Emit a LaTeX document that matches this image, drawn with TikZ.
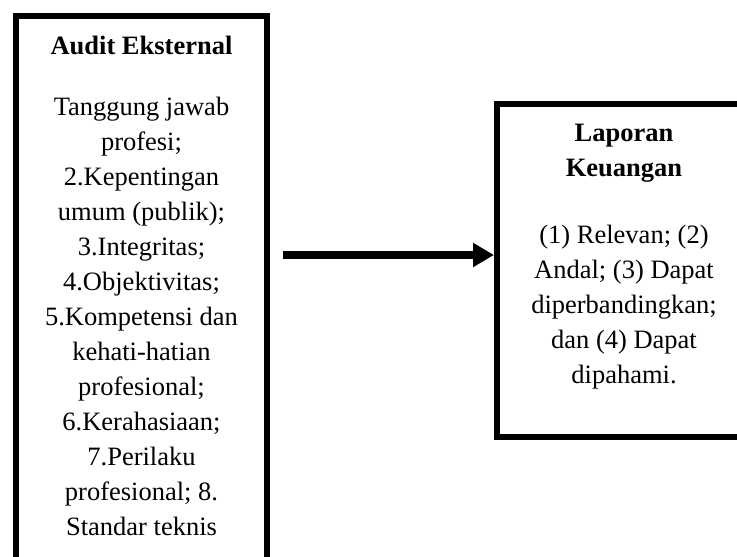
\documentclass[tikz,border=0pt]{standalone}
\usepackage{fontspec}
\setmainfont{Liberation Serif}
\usetikzlibrary{arrows.meta,positioning}

\tikzset{
  kotak/.style={draw, rectangle, line width=6pt, inner sep=0pt, anchor=north west},
  baris/.style={anchor=base, inner sep=0pt, font=\fontsize{26.5}{35}\selectfont},
  judul/.style={baris, font=\fontsize{26.5}{35}\selectfont\bfseries},
  panah/.style={line width=7.5pt, -{Triangle[length=21pt,width=23pt]}}
}

\begin{document}
\begin{tikzpicture}[x=1pt,y=-1pt]
\clip (0,0) rectangle (737,557);
% kotak kiri dan kanan
\node[kotak, minimum width=251pt, minimum height=600pt] (audit) at (13,13) {};
\node[kotak, minimum width=260pt, minimum height=333.5pt] (lapkeu) at (494,100.5) {};
% isi kotak kiri
\node[judul] (audit-judul) at (141.5,54) {Audit Eksternal};
\foreach \isi [count=\i from 0] in {{Tanggung jawab}, {profesi;}, {2.Kepentingan},
    {umum (publik);}, {3.Integritas;}, {4.Objektivitas;}, {5.Kompetensi dan},
    {kehati-hatian}, {profesional;}, {6.Kerahasiaan;}, {7.Perilaku},
    {profesional; 8.}, {Standar teknis}}
  \node[baris] (audit-\i) at (141.5,115+35*\i) {\isi};
% isi kotak kanan
\node[judul] (lapkeu-judul1) at (624,141) {Laporan};
\node[judul] (lapkeu-judul2) at (624,176) {Keuangan};
\foreach \isi [count=\i from 0] in {{(1) Relevan; (2)}, {Andal; (3) Dapat},
    {diperbandingkan;}, {dan (4) Dapat}, {dipahami.}}
  \node[baris] (lapkeu-\i) at (624,243+35*\i) {\isi};
% panah
\coordinate (pangkal) at (283,255);
\draw[panah] (pangkal) -- (pangkal -| lapkeu.west);
\end{tikzpicture}
\end{document}
